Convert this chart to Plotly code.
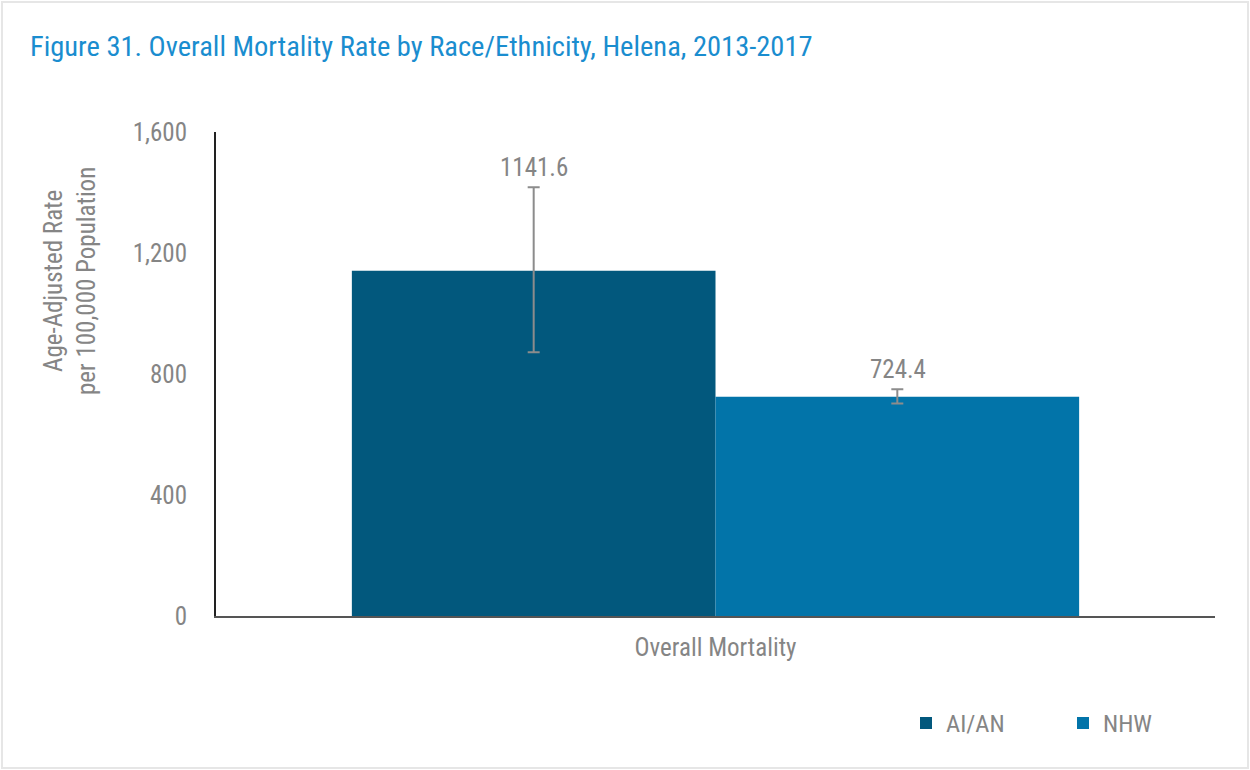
import plotly.graph_objects as go

category = ["Overall Mortality"]
groups = ["AI/AN", "NHW"]
rates = [1141.6, 724.4]
err_plus = [276, 25]
err_minus = [270, 22]
colors = ["#02587d", "#0274a9"]
y_ticks = [0, 400, 800, 1200, 1600]
y_tick_labels = ["0", "400", "800", "1,200", "1,600"]

font_family = "Liberation Sans Narrow, Roboto Condensed, Arial Narrow, Roboto, sans-serif"
gray = "#858585"

fig = go.Figure()
for name, val, ep, em, col in zip(groups, rates, err_plus, err_minus, colors):
    fig.add_trace(go.Bar(
        x=category, y=[val], name=name, marker=dict(color=col, line=dict(width=0)),
        error_y=dict(type="data", symmetric=False, array=[ep], arrayminus=[em],
                     color="#8c8c8c", thickness=2, width=6),
    ))

# value labels above the error bars
for i, (val, ep) in enumerate(zip(rates, err_plus)):
    fig.add_annotation(
        x=category[0], y=val + ep, xshift=(-182 if i == 0 else 182),
        text=f"{val:.1f}", showarrow=False, yanchor="bottom", yshift=3,
        font=dict(size=25, color=gray, family=font_family),
    )

# y axis title (sits above the plot centre in the original)
fig.add_annotation(
    xref="paper", yref="paper", x=-146 / 999, y=(616 - 281) / 484,
    text="Age-Adjusted Rate<br>per 100,000 Population", textangle=-90,
    showarrow=False, xanchor="center", yanchor="middle",
    font=dict(size=25, color=gray, family=font_family),
)

fig.update_layout(
    width=1250, height=770,
    paper_bgcolor="white", plot_bgcolor="white",
    margin=dict(l=216, r=35, t=132, b=154, autoexpand=False),
    barmode="group", bargap=0.272, bargroupgap=0,
    font=dict(family=font_family, color=gray, size=25),
    title=dict(text="Figure 31. Overall Mortality Rate by Race/Ethnicity, Helena, 2013-2017",
               x=30 / 1250, xanchor="left", y=1 - 46 / 770, yanchor="middle",
               font=dict(size=28.5, color="#1a8dcf", family=font_family)),
    legend=dict(orientation="h", xref="container", yref="container",
                x=906 / 1250, xanchor="left", y=1 - 723 / 770, yanchor="middle",
                entrywidth=112, entrywidthmode="pixels",
                font=dict(size=24.5, color=gray, family=font_family)),
    showlegend=True,
)
fig.update_xaxes(showline=True, linecolor="#555555", linewidth=2, ticks="",
                 tickfont=dict(size=25, color=gray), ticklabelstandoff=8)
fig.update_yaxes(range=[0, 1600], tickvals=y_ticks, ticktext=y_tick_labels,
                 showgrid=False, zeroline=False, showline=True, linecolor="#222222",
                 linewidth=2, ticks="", tickfont=dict(size=25, color=gray),
                 ticklabelstandoff=22)

# light frame around the whole picture
fig.add_shape(type="rect", xref="paper", yref="paper",
              x0=-214 / 999, x1=1 + 33 / 999, y0=-152 / 484, y1=1 + 130 / 484,
              line=dict(color="#e6e6e6", width=2), layer="below")

fig.write_html("out.html", config={"displayModeBar": False},
               post_script="document.body.style.margin='0';document.body.style.overflow='hidden';")
